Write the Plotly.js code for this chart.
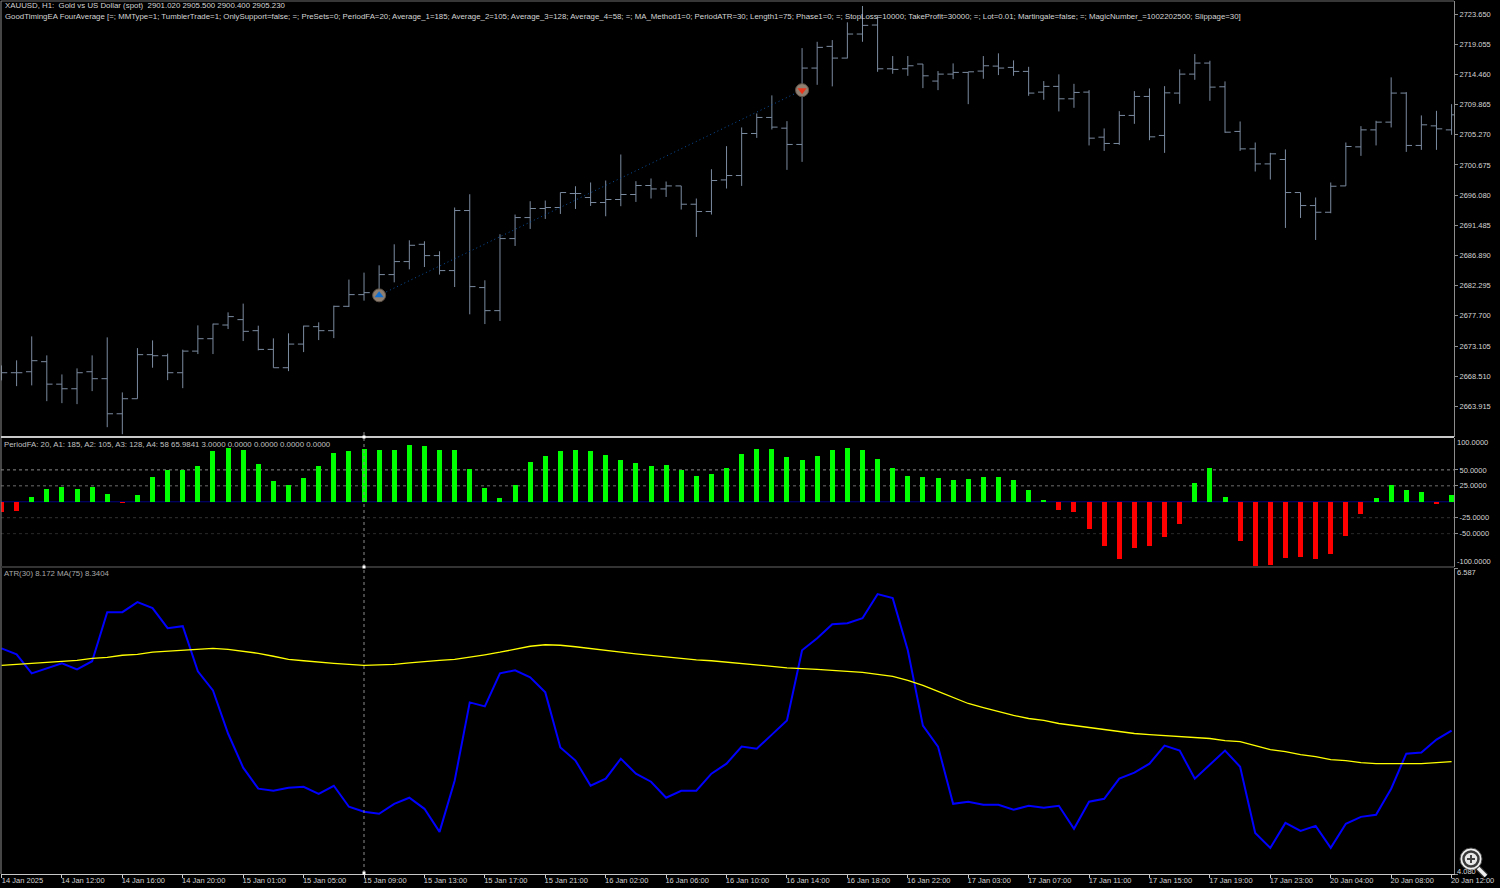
<!DOCTYPE html>
<html>
<head>
<meta charset="utf-8">
<script src="https://cdn.plot.ly/plotly-3.0.1.min.js"></script>
<style>html,body{margin:0;padding:0;background:#000;overflow:hidden}#chart{width:1500px;height:888px}</style>
</head>
<body>
<div id="chart"></div>
<script>
const opens = [2669.04,2669.04,2669.19,2670.72,2667.30,2666.60,2669.19,2668.13,2662.79,2665.08,2671.79,2671.63,2669.04,2672.33,2674.22,2676.30,2677.12,2675.44,2672.59,2669.80,2673.40,2676.05,2675.44,2679.15,2680.93,2681.17,2683.98,2685.96,2688.59,2686.87,2684.59,2693.73,2682.00,2678.49,2689.46,2692.66,2694.04,2694.19,2696.32,2695.71,2694.95,2695.41,2696.17,2697.54,2697.02,2697.48,2694.69,2693.58,2698.39,2699.06,2705.46,2707.90,2706.27,2703.79,2715.42,2718.72,2716.94,2720.60,2721.97,2715.31,2715.31,2716.03,2713.44,2714.50,2714.76,2714.96,2715.72,2715.52,2714.91,2711.76,2712.63,2710.74,2711.76,2704.90,2703.94,2708.21,2711.10,2705.16,2711.61,2714.50,2716.18,2712.57,2705.77,2703.12,2700.83,2701.50,2696.47,2694.49,2693.47,2697.48,2703.42,2706.01,2707.19,2711.61,2703.64,2706.62,2706.01];
const highs = [2670.15,2670.92,2674.57,2671.68,2668.78,2669.70,2671.68,2674.42,2666.04,2672.79,2673.96,2671.94,2672.55,2676.25,2676.51,2678.23,2679.56,2676.20,2674.27,2675.03,2676.20,2676.71,2679.25,2683.22,2684.28,2685.39,2688.59,2689.20,2689.05,2687.53,2694.19,2696.21,2683.11,2690.12,2693.12,2695.15,2695.25,2696.47,2697.43,2698.00,2698.30,2702.26,2698.20,2698.61,2698.15,2697.48,2695.56,2700.02,2703.53,2706.38,2708.51,2711.26,2707.34,2718.46,2719.42,2719.68,2722.38,2724.87,2723.45,2717.25,2717.25,2716.03,2714.96,2716.13,2714.81,2717.25,2717.66,2716.59,2715.61,2713.44,2714.46,2713.02,2712.06,2706.23,2708.86,2711.91,2712.32,2712.67,2715.22,2717.55,2716.53,2713.39,2707.29,2704.09,2702.51,2703.03,2696.47,2695.71,2698.00,2704.09,2706.58,2707.39,2714.00,2711.76,2708.21,2708.91,2709.93];
const lows = [2667.87,2667.00,2667.11,2664.71,2664.41,2664.26,2666.24,2660.75,2659.68,2665.08,2669.80,2667.91,2666.69,2671.88,2671.88,2675.69,2673.86,2672.44,2669.80,2669.28,2672.18,2674.01,2674.31,2679.04,2680.01,2680.67,2682.80,2684.78,2685.13,2683.98,2682.09,2677.93,2676.45,2676.91,2688.34,2690.93,2692.45,2693.21,2693.97,2694.43,2692.86,2694.39,2695.04,2695.56,2695.80,2693.88,2689.71,2693.12,2697.08,2697.48,2704.79,2706.07,2699.92,2701.14,2712.87,2712.63,2716.90,2719.42,2714.85,2714.55,2714.24,2712.37,2712.06,2713.74,2709.93,2713.79,2714.35,2714.24,2711.20,2710.59,2708.82,2709.37,2703.64,2702.81,2703.73,2706.93,2704.44,2702.51,2709.98,2713.63,2710.43,2705.56,2702.81,2699.67,2698.45,2691.08,2692.60,2689.25,2693.32,2697.48,2702.05,2703.64,2706.38,2702.66,2702.97,2702.97,2705.25];
const closes = [2669.04,2669.04,2670.87,2667.30,2666.60,2669.04,2668.13,2662.79,2665.08,2671.79,2671.63,2669.04,2672.33,2674.22,2676.45,2677.58,2675.34,2672.59,2669.80,2673.40,2676.14,2675.44,2679.15,2680.93,2681.23,2683.98,2685.96,2688.44,2686.87,2684.59,2693.73,2682.15,2678.49,2689.46,2692.66,2694.04,2694.19,2696.47,2696.32,2694.95,2695.41,2696.17,2697.54,2697.02,2697.48,2694.69,2693.58,2698.30,2699.06,2705.46,2707.90,2706.43,2703.79,2715.42,2718.57,2716.94,2720.60,2721.92,2715.31,2715.22,2715.77,2714.24,2714.50,2714.76,2714.85,2715.77,2715.42,2714.91,2711.61,2712.63,2710.74,2711.71,2704.75,2703.94,2708.21,2711.10,2704.95,2711.65,2714.50,2716.18,2712.52,2705.66,2703.12,2700.83,2702.36,2696.47,2694.49,2693.47,2697.43,2703.48,2706.01,2707.19,2711.61,2703.64,2706.78,2706.17,2708.30];

const periodFA = [-15.6,-14,7.3,19.8,22.9,20.8,23.4,11.5,-2,10.4,38.5,50.5,50,56.2,79.7,83.9,80.7,59.9,32.3,26.6,38,56.2,76,79.7,82.3,80.7,80.7,88.5,87,80.7,80.7,51,21.4,5.2,27,62.5,72.4,80.2,81.8,80.2,74,65.6,61.5,56.8,58.3,50.5,41.1,44.3,53.6,75,83.3,83.3,70.8,65.6,72.4,81.8,84.9,81.8,67.7,53.6,41.1,39.6,38,34.9,36.5,38.5,38.5,34.9,17.7,2.6,-13,-16.7,-42.2,-68.7,-89.6,-72.4,-68.7,-55.7,-34.4,29.2,53.1,7.3,-61.5,-100.5,-99,-88,-86.5,-89.6,-81.2,-53.1,-18.7,5.7,26,18.2,15.1,-3.1,9.9];

const atrValues = [5.929,5.880,5.724,5.765,5.806,5.757,5.823,6.225,6.225,6.308,6.258,6.094,6.110,5.740,5.584,5.231,4.951,4.779,4.762,4.787,4.795,4.737,4.803,4.631,4.590,4.573,4.655,4.705,4.614,4.425,4.844,5.486,5.453,5.724,5.749,5.691,5.568,5.116,5.009,4.803,4.861,5.025,4.902,4.836,4.705,4.762,4.762,4.902,4.984,5.124,5.107,5.222,5.338,5.913,6.012,6.127,6.135,6.176,6.373,6.340,5.913,5.296,5.124,4.655,4.672,4.647,4.647,4.606,4.639,4.622,4.639,4.450,4.672,4.696,4.861,4.910,4.984,5.132,5.091,4.861,4.976,5.091,4.959,4.417,4.294,4.499,4.433,4.474,4.294,4.491,4.548,4.565,4.779,5.066,5.075,5.181,5.255];
const maValues = [5.790,5.798,5.806,5.814,5.823,5.831,5.847,5.855,5.872,5.880,5.897,5.905,5.917,5.925,5.929,5.921,5.905,5.888,5.864,5.839,5.827,5.814,5.806,5.798,5.790,5.794,5.798,5.810,5.823,5.831,5.839,5.855,5.876,5.897,5.921,5.946,5.958,5.954,5.942,5.929,5.913,5.897,5.884,5.872,5.855,5.847,5.835,5.827,5.814,5.802,5.790,5.781,5.769,5.765,5.757,5.749,5.740,5.732,5.716,5.699,5.666,5.625,5.576,5.527,5.477,5.444,5.412,5.379,5.354,5.338,5.313,5.296,5.280,5.264,5.247,5.231,5.222,5.214,5.206,5.198,5.190,5.173,5.165,5.132,5.099,5.083,5.058,5.042,5.017,5.009,4.992,4.984,4.984,4.984,4.984,4.992,5.001];

const priceTicks = [2723.650,2719.055,2714.460,2709.865,2705.270,2700.675,2696.080,2691.485,2686.890,2682.295,2677.700,2673.105,2668.510,2663.915];
const priceTickText = ['2723.650','2719.055','2714.460','2709.865','2705.270','2700.675','2696.080','2691.485','2686.890','2682.295','2677.700','2673.105','2668.510','2663.915'];
const faTicks = [50,25,-25,-50];
const faTickText = ['50.0000','25.0000','-25.0000','-50.0000'];
const timeTickBars = [0,4,8,12,16,20,24,28,32,36,40,44,48,52,56,60,64,68,72,76,80,84,88,92,96];
const timeTickText = ['14 Jan 2025','14 Jan 12:00','14 Jan 16:00','14 Jan 20:00','15 Jan 01:00','15 Jan 05:00','15 Jan 09:00','15 Jan 13:00','15 Jan 17:00','15 Jan 21:00','16 Jan 02:00','16 Jan 06:00','16 Jan 10:00','16 Jan 14:00','16 Jan 18:00','16 Jan 22:00','17 Jan 03:00','17 Jan 07:00','17 Jan 11:00','17 Jan 15:00','17 Jan 19:00','17 Jan 23:00','20 Jan 04:00','20 Jan 08:00','20 Jan 12:00'];
const dealBars = [25,53];
const dealPrices = [2680.82,2712.06];

const headerLine1 = 'XAUUSD, H1:  Gold vs US Dollar (spot)  2901.020 2905.500 2900.400 2905.230';
const headerLine2 = 'GoodTimingEA FourAverage [=; MMType=1; TumblerTrade=1; OnlySupport=false; =; PreSets=0; PeriodFA=20; Average_1=185; Average_2=105; Average_3=128; Average_4=58; =; MA_Method1=0; PeriodATR=30; Length1=75; Phase1=0; =; StopLoss=10000; TakeProfit=30000; =; Lot=0.01; Martingale=false; =; MagicNumber_=1002202500; Slippage=30]';
const faLegend = 'PeriodFA: 20, A1: 185, A2: 105, A3: 128, A4: 58 65.9841 3.0000 0.0000 0.0000 0.0000 0.0000';
const atrLegend = 'ATR(30) 8.172 MA(75) 8.3404';

const bars = opens.map((_, i) => i);
const FONT = '"Liberation Sans", Arial, sans-serif';
const TXT = '#d4d4d4';
const px = p => (p - 1) / 1453;
const py = p => (874 - p) / 873;

const traces = [
  {type:'ohlc', x:bars, open:opens, high:highs, low:lows, close:closes, xaxis:'x', yaxis:'y',
   tickwidth:0.38, line:{width:1},
   increasing:{line:{color:'#7b8ba0',width:1}}, decreasing:{line:{color:'#7b8ba0',width:1}}, hoverinfo:'skip', showlegend:false},
  {type:'scatter', mode:'lines', x:dealBars, y:dealPrices, xaxis:'x', yaxis:'y',
   line:{color:'#0a4f9e',width:1,dash:'1px,3px'}, hoverinfo:'skip', showlegend:false},
  {type:'scatter', mode:'markers', x:dealBars, y:dealPrices, xaxis:'x', yaxis:'y',
   marker:{size:13,color:'#8f8072',line:{color:'#5c5248',width:1}}, hoverinfo:'skip', showlegend:false},
  {type:'scatter', mode:'markers', x:[dealBars[0]], y:[dealPrices[0]], xaxis:'x', yaxis:'y',
   marker:{size:8,color:'#1470d0',symbol:'triangle-up'}, hoverinfo:'skip', showlegend:false},
  {type:'scatter', mode:'markers', x:[dealBars[1]], y:[dealPrices[1]], xaxis:'x', yaxis:'y',
   marker:{size:8,color:'#e8361c',symbol:'triangle-down'}, hoverinfo:'skip', showlegend:false},
  {type:'bar', x:bars, y:periodFA, xaxis:'x', yaxis:'y2', width:0.33,
   marker:{color:periodFA.map(v => v >= 0 ? '#00ff00' : '#ff0000'), line:{width:0}}, hoverinfo:'skip', showlegend:false},
  {type:'scatter', mode:'lines', x:bars, y:atrValues, xaxis:'x', yaxis:'y3',
   line:{color:'#0000ff',width:2}, hoverinfo:'skip', showlegend:false},
  {type:'scatter', mode:'lines', x:bars, y:maValues, xaxis:'x', yaxis:'y3',
   line:{color:'#ffff00',width:1.3}, hoverinfo:'skip', showlegend:false}
];

const yCommon = {side:'right', anchor:'x', showgrid:false, zeroline:false, showline:true, linecolor:'#8c8c8c', linewidth:1,
  ticks:'outside', ticklen:3, tickwidth:1, tickcolor:'#8c8c8c', tickfont:{family:FONT,size:7.5,color:TXT}, tickmode:'array', fixedrange:true};

const levelShape = (v, c) => ({type:'line', xref:'paper', x0:0, x1:1, yref:'y2', y0:v, y1:v, layer:'below', line:{color:c,width:1,dash:'dot'}});
const lineShape = (x0,y0,x1,y1,c,w,dash) => ({type:'line', xref:'paper', yref:'paper', x0:px(x0), x1:px(x1), y0:py(y0), y1:py(y1), line:{color:c,width:w,dash:dash||'solid'}});
const circleShape = (cx,cy,r,fill,lc,lw) => ({type:'circle', xref:'paper', yref:'paper', x0:px(cx-r), x1:px(cx+r), y0:py(cy-r), y1:py(cy+r), fillcolor:fill, line:{color:lc,width:lw}});
const dotShape = (cx,cy) => ({type:'rect', xref:'paper', yref:'paper', x0:px(cx-1.5), x1:px(cx+1.5), y0:py(cy-1.5), y1:py(cy+1.5), fillcolor:'#ffffff', line:{width:0}});

const shapes = [
  levelShape(50,'#8a8a8a'), levelShape(25,'#6e6e6e'), levelShape(-25,'#333333'), levelShape(-50,'#2a2a2a'),
  {type:'line', xref:'paper', x0:0, x1:1, yref:'y2', y0:0, y1:0, layer:'below', line:{color:'#000080',width:1}},
  lineShape(1,1,1454,1,'#6e6e6e',1),
  lineShape(1,1,1,874,'#8c8c8c',1),
  lineShape(1,437,1454,437,'#c8c8c8',2),
  lineShape(1,567,1454,567,'#333333',2),
  lineShape(364,438,364,874,'#8a8a8a',1,'dot'),
  lineShape(364,432,364,437,'#8a8a8a',1),
  dotShape(364,437), dotShape(364,567), dotShape(364,873),
  lineShape(1478,868,1486,876,'#333333',6),
  lineShape(1478,868,1486,876,'#eeeeee',3.5),
  circleShape(1471,859,11,'#eeeeee','#444444',1),
  circleShape(1471,859,7.5,'#e8e8e8','#3a3a3a',2.5),
  lineShape(1467,859,1475,859,'#444444',2),
  lineShape(1471,855,1471,863,'#444444',2)
];

const note = (text, x, y, size, color) => ({text, xref:'paper', yref:'paper', x:px(x), y:py(y), xanchor:'left', yanchor:'middle',
  showarrow:false, align:'left', font:{family:FONT,size,color}});
const sideNote = (text, yref, v, shift) => ({text, xref:'paper', yref, x:1, y:v, xanchor:'left', yanchor:'middle', xshift:1, yshift:shift,
  showarrow:false, font:{family:FONT,size:7.5,color:TXT}});

const annotations = [
  note(headerLine1, 3, 6, 7.85, TXT),
  note(headerLine2, 3, 16, 7.85, TXT),
  note(faLegend, 2, 444, 7.85, '#c0c0c0'),
  note(atrLegend, 2, 573, 7.85, '#a8a8a8'),
  sideNote('100.0000','y2',100,-4),
  sideNote('-100.0000','y2',-100,4),
  sideNote('6.587','y3',6.587,-4),
  sideNote('4.080','y3',4.08,3)
];

const layout = {
  width:1500, height:888, paper_bgcolor:'#000', plot_bgcolor:'#000', showlegend:false, bargap:0,
  margin:{l:1,r:46,t:1,b:14,pad:0},
  font:{family:FONT,size:8,color:TXT},
  xaxis:{type:'linear', domain:[0,1], range:[-0.033,96.16], anchor:'y3', rangeslider:{visible:false}, showgrid:false, zeroline:false,
    showline:true, linecolor:'#c8c8c8', linewidth:1, ticks:'outside', ticklen:3, tickwidth:1, tickcolor:'#c8c8c8',
    tickmode:'array', tickvals:timeTickBars, ticktext:timeTickText, tickangle:0, ticklabelshift:21, ticklabelstandoff:-4, ticklabeloverflow:'allow',
    tickfont:{family:FONT,size:7.5,color:TXT}, fixedrange:true},
  yaxis:Object.assign({}, yCommon, {domain:[py(436.5),1], range:[2659.33,2725.63], tickvals:priceTicks, ticktext:priceTickText}),
  yaxis2:Object.assign({}, yCommon, {domain:[py(566.5),py(438)], range:[-101.5,100], tickvals:faTicks, ticktext:faTickText}),
  yaxis3:Object.assign({}, yCommon, {domain:[0,py(568)], range:[4.08,6.587], tickvals:[6.587,4.08], ticktext:['','']}),
  shapes, annotations
};

Plotly.newPlot('chart', traces, layout, {staticPlot:true, displayModeBar:false, responsive:false});
</script>
</body>
</html>
